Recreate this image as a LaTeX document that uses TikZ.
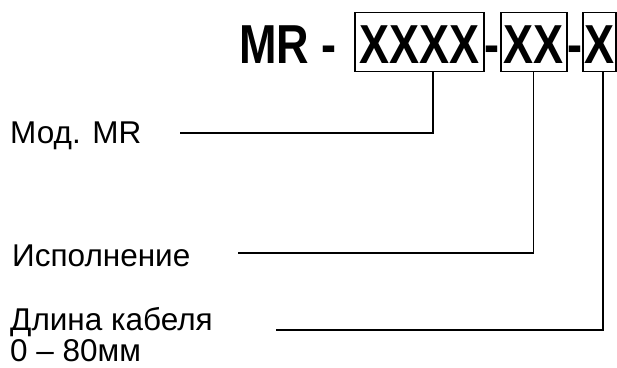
\documentclass[tikz,border=0pt]{standalone}
\usepackage{fontspec}
\setmainfont{Liberation Sans}
\newcommand{\tallcode}[1]{\scalebox{1}[1.22]{#1}}
\begin{document}
\begin{tikzpicture}[x=1pt,y=-1pt,
  code/.style={font=\fontsize{45}{54}\selectfont\bfseries, inner sep=0pt},
  codebox/.style={code, draw, line width=1.8pt, minimum height=59pt, text height=42pt, text depth=0pt},
  lbl/.style={font=\fontsize{31.5}{31}\selectfont, inner sep=0pt, anchor=base west, align=left},
  lead/.style={line width=1.5pt}]
\useasboundingbox (0,0) rectangle (617,367);
% code fields
\node[codebox, minimum width=129pt] (xxxx) at (419.5,42) {\tallcode{XXXX}};
\node[codebox, minimum width=66pt] (xx) at (533.7,42) {\tallcode{XX}};
\node[codebox, minimum width=33pt] (x) at (599.5,42) {\tallcode{X}};
\node[code, anchor=base east] (mr) at ([xshift=-17pt]xxxx.base west) {\tallcode{MR -}};
\node[code, anchor=base] (d1) at (492.3,63) {\tallcode{-}};
\node[code, anchor=base] (d2) at (575,63) {\tallcode{-}};
% labels
\node[lbl] (mod) at (10,143) {Мод. MR};
\node[lbl] (isp) at (12,266) {Исполнение};
\node[lbl, anchor=north west] (dl) at (10,307) {Длина кабеля\\0 – 80мм};
% leaders
\coordinate (e1) at (180,133);
\coordinate (e2) at (238,253);
\coordinate (e3) at (276,330);
\draw[lead] (e1) -| ([xshift=13.5pt]xxxx.south);
\draw[lead] (e2) -| (xx.south);
\draw[lead] (e3) -| ([xshift=3.5pt]x.south);
\end{tikzpicture}
\end{document}
